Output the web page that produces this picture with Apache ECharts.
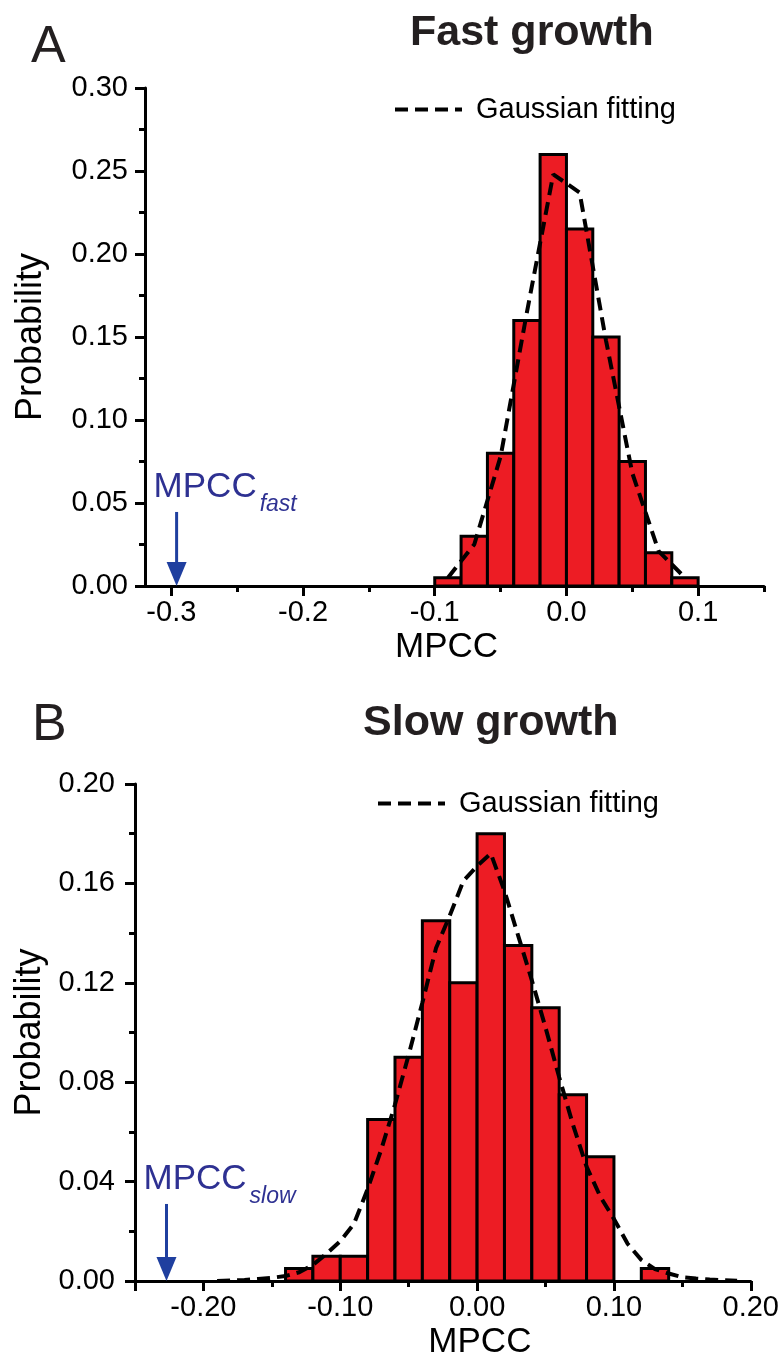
<!DOCTYPE html>
<html><head><meta charset="utf-8">
<script src="https://cdn.jsdelivr.net/npm/echarts@6/dist/echarts.min.js"></script>
<style>html,body{margin:0;padding:0;background:#fff}#c{width:782px;height:1361px}</style>
</head><body><div id="c"></div>
<script>
// ---- data ----
const binWidth = 0.02;
const fastBinStart = [-0.10,-0.08,-0.06,-0.04,-0.02,0.00,0.02,0.04,0.06,0.08];
const fastProb     = [0.005,0.03,0.08,0.16,0.26,0.215,0.15,0.075,0.02,0.005];
const slowBinStart = [-0.14,-0.12,-0.10,-0.08,-0.06,-0.04,-0.02,0.00,0.02,0.04,0.06,0.08,0.12];
const slowProb     = [0.005,0.01,0.01,0.065,0.09,0.145,0.12,0.18,0.135,0.11,0.075,0.05,0.005];
const fastFitX = [-0.09,-0.07,-0.05,-0.03,-0.01,0.01,0.03,0.05,0.07,0.09];
const fastFitY = [0.005,0.025,0.078,0.165,0.248,0.237,0.148,0.068,0.021,0.005];
const slowFitX = [-0.19,-0.18,-0.17,-0.16,-0.15,-0.14,-0.13,-0.12,-0.11,-0.10,-0.09,-0.08,-0.07,-0.06,-0.05,-0.04,-0.03,-0.02,-0.01,0.00,0.01,0.02,0.03,0.04,0.05,0.06,0.07,0.08,0.09,0.10,0.11,0.12,0.13,0.14,0.15,0.16,0.17,0.18,0.19];
const slowFitY = [0.000,0.0002,0.0004,0.0008,0.0013,0.002,0.0035,0.0065,0.011,0.016,0.023,0.037,0.053,0.071,0.091,0.112,0.134,0.147,0.161,0.167,0.172,0.157,0.139,0.121,0.102,0.082,0.063,0.046,0.034,0.025,0.015,0.0085,0.0048,0.003,0.0015,0.001,0.0006,0.0003,0.0001];
const fastXLabels = [-0.3,-0.2,-0.1,0.0,0.1];
const fastXMinor  = [-0.25,-0.15,-0.05,0.05,0.15];
const slowXLabels = [-0.20,-0.10,0.00,0.10,0.20];
const slowXMajorTicks = [-0.25,-0.20,-0.10,0.00,0.10,0.20];
const slowXMinor  = [-0.15,-0.05,0.05,0.15];
const mpccFast = [-0.296, 0.0446];
const mpccSlow = [-0.227, 0.031];
const titles = ['Fast growth','Slow growth'];
const fitName = 'Gaussian fitting';

// ---- style ----
const FF = '"Liberation Sans", Arial, Helvetica, sans-serif';
const RED = '#ED1C24', BLUE_T = '#2E3192', BLUE_A = '#1F3F9F';
const DASH = [13,7];
const ctx = document.createElement('canvas').getContext('2d');
function measure(t, f){ ctx.font = f; return ctx.measureText(t).width; }

function barItem(params, api){
  const x0 = api.value(0), y = api.value(1);
  const p0 = api.coord([x0, 0]);
  const p1 = api.coord([x0 + binWidth, y]);
  return {type:'rect', shape:{x:p0[0], y:p1[1], width:p1[0]-p0[0], height:p0[1]-p1[1]},
    style:{fill:RED, stroke:'#000', lineWidth:3}};
}
function arrowItem(label, sub){
  return function(params, api){
    const top = api.coord([api.value(0), api.value(1)]);
    const tip = api.coord([api.value(0), 0]);
    const headLen = 24, headW = 20;
    const f1 = '35px ' + FF, f2 = 'italic 23px ' + FF;
    const w1 = measure(label, f1);
    const tx = top[0] - 23;
    return {type:'group', children:[
      {type:'line', shape:{x1:top[0], y1:top[1], x2:tip[0], y2:tip[1]-headLen+2}, style:{stroke:BLUE_A, lineWidth:3}},
      {type:'polygon', shape:{points:[[tip[0]-headW/2, tip[1]-headLen],[tip[0]+headW/2, tip[1]-headLen],[tip[0], tip[1]]]}, style:{fill:BLUE_A}},
      {type:'text', x:tx, y:top[1]-25, style:{text:label, font:f1, fill:BLUE_T, align:'left', verticalAlign:'middle'}},
      {type:'text', x:tx + w1 + 3, y:top[1]-7, style:{text:sub, font:f2, fill:BLUE_T, align:'left', verticalAlign:'middle'}}
    ]};
  };
}
const zip = (a,b) => a.map((v,i)=>[v,b[i]]);
const axisLineStyle = {color:'#000', width:3};

function xMain(grid, min, max, labels, ticks, fmt, gapShift){
  return {type:'value', gridIndex:grid, min, max, position:'bottom',
    axisLine:{show:true, onZero:false, lineStyle:axisLineStyle},
    axisTick:{show:true, length:10, lineStyle:{color:'#000', width:3}, customValues:ticks},
    axisLabel:{show:true, customValues:labels, formatter:v=>Number(v).toFixed(fmt), fontSize:29, fontFamily:FF, color:'#000', margin:12},
    splitLine:{show:false},
    name:'MPCC', nameLocation:'middle', nameGap:44,
    nameTextStyle:{fontSize:35, fontFamily:FF, color:'#000', padding:gapShift}};
}
function xMinor(grid, min, max, ticks){
  return {type:'value', gridIndex:grid, min, max, position:'bottom',
    axisLine:{show:false}, axisTick:{show:true, length:6, lineStyle:{color:'#000', width:3}, customValues:ticks},
    axisLabel:{show:false}, splitLine:{show:false}};
}
function yAxis(grid, max, interval, fmt, margin, gap){
  return {type:'value', gridIndex:grid, min:0, max, interval,
    axisLine:{show:true, onZero:false, lineStyle:axisLineStyle},
    axisTick:{show:true, length:10, lineStyle:{color:'#000', width:3}},
    minorTick:{show:true, splitNumber:2, length:6, lineStyle:{color:'#000', width:3}},
    axisLabel:{formatter:v=>Number(v).toFixed(fmt), fontSize:29, fontFamily:FF, color:'#000', margin},
    splitLine:{show:false}, minorSplitLine:{show:false},
    name:'Probability', nameLocation:'middle', nameGap:gap, nameRotate:90,
    nameTextStyle:{fontSize:36, fontFamily:FF, color:'#000'}};
}
function legendAt(left, top){
  return {data:[fitName], left, top, itemWidth:67, itemHeight:14, selectedMode:false,
    itemStyle:{opacity:0}, lineStyle:{color:'#000', width:4, type:DASH},
    textStyle:{fontSize:29, fontFamily:FF, color:'#000', padding:[0,0,0,9]}};
}

const option = {
  animation:false,
  backgroundColor:'#fff',
  title:[
    {text:'A', left:26, top:17, textStyle:{fontSize:52, fontWeight:'normal', fontFamily:FF, color:'#231F20'}},
    {text:titles[0], left:405, top:7, textStyle:{fontSize:43, fontWeight:'bold', fontFamily:FF, color:'#231F20'}},
    {text:'B', left:27, top:695, textStyle:{fontSize:52, fontWeight:'normal', fontFamily:FF, color:'#231F20'}},
    {text:titles[1], left:358, top:697, textStyle:{fontSize:43, fontWeight:'bold', fontFamily:FF, color:'#231F20'}}
  ],
  legend:[ legendAt(388, 90), legendAt(371, 784) ],
  grid:[
    {left:145, top:88, width:619, height:498},
    {left:135, top:784, width:620, height:497}
  ],
  xAxis:[
    xMain(0, -0.32, 0.15, fastXLabels, fastXLabels, 1, [0,16,0,0]),
    xMinor(0, -0.32, 0.15, fastXMinor),
    xMain(1, -0.25, 0.20, slowXLabels, slowXMajorTicks, 2, [0,0,0,74]),
    xMinor(1, -0.25, 0.20, slowXMinor)
  ],
  yAxis:[
    yAxis(0, 0.30, 0.05, 2, 17, 96),
    yAxis(1, 0.20, 0.04, 2, 20, 86)
  ],
  series:[
    {type:'custom', name:'fast', xAxisIndex:0, yAxisIndex:0, renderItem:barItem, encode:{x:0,y:1}, data:zip(fastBinStart, fastProb), z:2},
    {type:'line', name:fitName, xAxisIndex:0, yAxisIndex:0, data:zip(fastFitX, fastFitY), symbol:'none', z:5,
      lineStyle:{color:'#000', width:4, type:DASH}, itemStyle:{color:'#000'}},
    {type:'custom', name:'mpccFast', xAxisIndex:0, yAxisIndex:0, renderItem:arrowItem('MPCC','fast'), encode:{x:0,y:1}, data:[mpccFast], z:6},
    {type:'custom', name:'slow', xAxisIndex:2, yAxisIndex:1, renderItem:barItem, encode:{x:0,y:1}, data:zip(slowBinStart, slowProb), z:2},
    {type:'line', name:fitName, xAxisIndex:2, yAxisIndex:1, data:zip(slowFitX, slowFitY), symbol:'none', z:5,
      lineStyle:{color:'#000', width:4, type:DASH}, itemStyle:{color:'#000'}},
    {type:'custom', name:'mpccSlow', xAxisIndex:2, yAxisIndex:1, renderItem:arrowItem('MPCC','slow'), encode:{x:0,y:1}, data:[mpccSlow], z:6}
  ]
};
const chart = echarts.init(document.getElementById('c'), null, {renderer:'canvas'});
chart.setOption(option);
</script></body></html>
